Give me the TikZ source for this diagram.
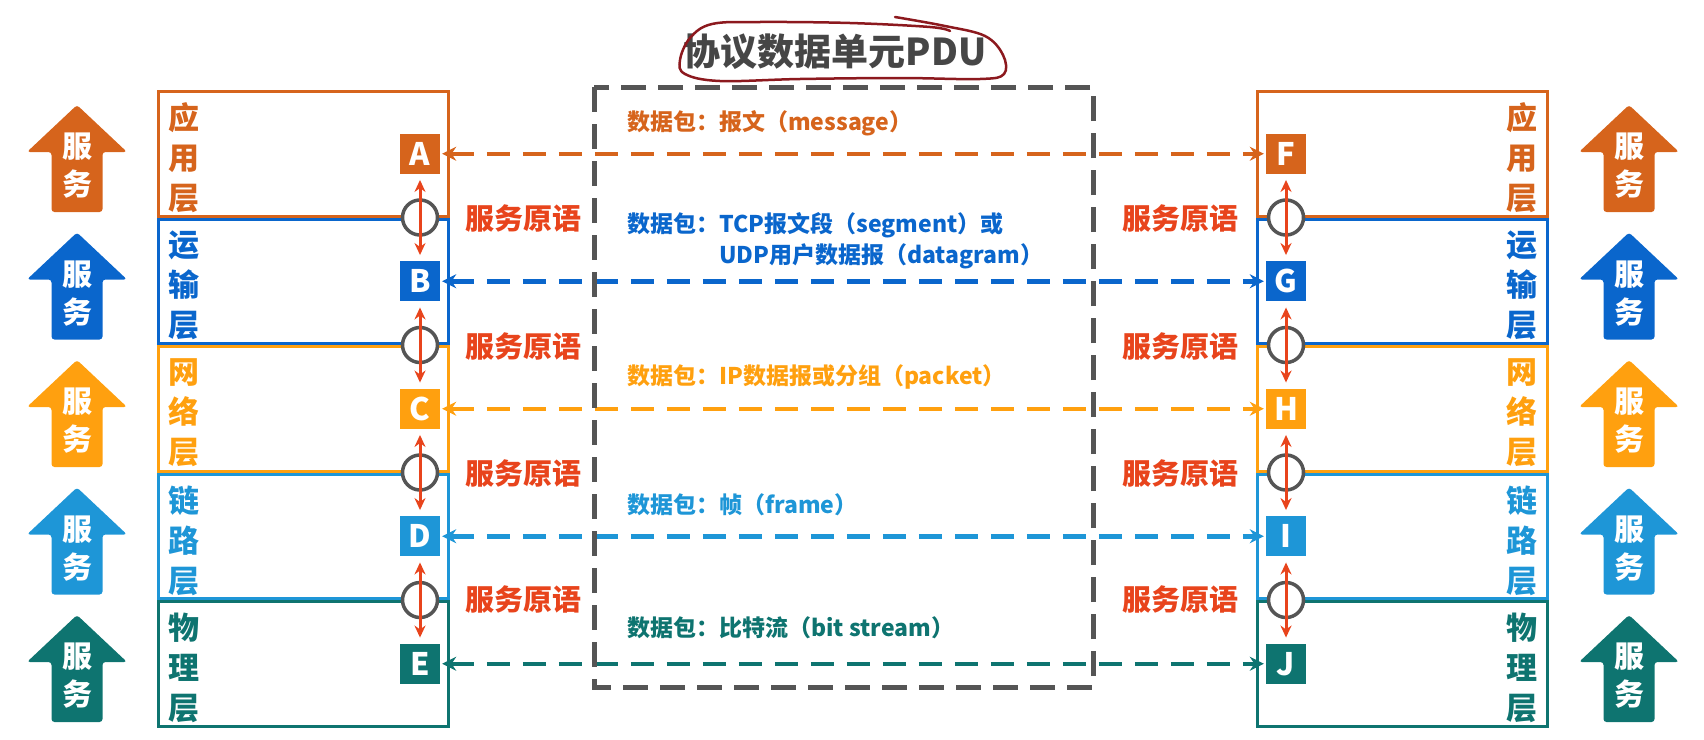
\documentclass[tikz,border=0pt]{standalone}
\usepackage{fontspec}
\setmainfont{Noto Sans CJK SC}
\usetikzlibrary{arrows.meta}

\definecolor{appc}{RGB}{214,100,28}
\definecolor{trnc}{RGB}{10,102,204}
\definecolor{netc}{RGB}{255,160,15}
\definecolor{lnkc}{RGB}{30,150,215}
\definecolor{phyc}{RGB}{14,116,112}
\definecolor{primc}{RGB}{232,68,28}
\definecolor{sapc}{RGB}{85,85,85}
\definecolor{pduc}{RGB}{85,85,85}
\definecolor{titlec}{RGB}{70,70,70}
\definecolor{inkc}{RGB}{140,25,30}

\tikzset{
	layer/.style={draw, line width=3pt, minimum width=290pt, minimum height=124.5pt, inner sep=0pt},
	lyrtext/.style={font=\fontsize{31}{40}\selectfont\bfseries, align=center, inner sep=0pt},
	tag/.style={fill, minimum size=40pt, inner sep=0pt, text=white, font=\fontsize{31}{30}\selectfont\bfseries},
	sap/.style={circle, draw=sapc, line width=3.5pt, fill=white, minimum size=35pt, inner sep=0pt},
	prim/.style={primc, line width=3pt, {Stealth[length=12pt,width=11pt]}-{Stealth[length=12pt,width=11pt]}, shorten <=6pt, shorten >=6pt},
	primtext/.style={text=primc, font=\fontsize{29}{30}\selectfont\bfseries, inner sep=0pt},
	peer/.style={line width=4.5pt, dash pattern=on 23pt off 13pt, {Stealth[length=14pt,width=14pt]}-{Stealth[length=14pt,width=14pt]}, shorten <=2pt, shorten >=2pt},
	pdutext/.style={anchor=west, font=\fontsize{23}{31}\selectfont\bfseries, inner sep=0pt, align=left},
	svc/.pic={
		\fill[rounded corners=3pt] (0,-53.5) -- (50,-6.5) -- (25.5,-6.5) -- (25.5,53.5) -- (-25.5,53.5) -- (-25.5,-6.5) -- (-50,-6.5) -- cycle;
		\node[text=white, font=\fontsize{30}{38}\selectfont\bfseries, align=center, inner sep=0pt] at (0,7.5) {服\\务};
	}
}

\begin{document}
\begin{tikzpicture}[x=1pt, y=-1pt]
	\useasboundingbox (0,0) rectangle (1704,739);
	
	% title
	\node[text=titlec, font=\fontsize{37}{40}\selectfont\bfseries] (title) at (835,52) {协议数据单元PDU};
	\draw[inkc, line width=2.5pt, line cap=round] plot[smooth, tension=0.6] coordinates {(895,17) (945,26) (985,36) (1003,55) (1004,74) (980,79) (900,78) (800,79) (720,81) (685,74) (680,60) (690,38) (712,24) (760,22) (850,23) (930,27) (950,31)};
	
	% service arrows
	\pic[color=appc] at (77,158.5) {svc};
	\pic[color=trnc] at (77,286) {svc};
	\pic[color=netc] at (77,413.5) {svc};
	\pic[color=lnkc] at (77,541) {svc};
	\pic[color=phyc] at (77,668.5) {svc};
	\pic[color=appc] at (1629,158.5) {svc};
	\pic[color=trnc] at (1629,286) {svc};
	\pic[color=netc] at (1629,413.5) {svc};
	\pic[color=lnkc] at (1629,541) {svc};
	\pic[color=phyc] at (1629,668.5) {svc};
	
	% layers, left host
	\node[layer, draw=appc] (appL) at (303.5,153.75) {};
	\node[layer, draw=trnc] (trnL) at (303.5,281.25) {};
	\node[layer, draw=netc] (netL) at (303.5,408.75) {};
	\node[layer, draw=lnkc] (lnkL) at (303.5,536.25) {};
	\node[layer, draw=phyc] (phyL) at (303.5,663.75) {};
	
	\node[lyrtext, text=appc] (appLt) at (184,158) {应\\用\\层};
	\node[lyrtext, text=trnc] (trnLt) at (184,285.5) {运\\输\\层};
	\node[lyrtext, text=netc] (netLt) at (184,413) {网\\络\\层};
	\node[lyrtext, text=lnkc] (lnkLt) at (184,540.5) {链\\路\\层};
	\node[lyrtext, text=phyc] (phyLt) at (184,668) {物\\理\\层};
	
	% layers, right host
	\node[layer, draw=appc] (appR) at (1402.5,153.75) {};
	\node[layer, draw=trnc] (trnR) at (1402.5,281.25) {};
	\node[layer, draw=netc] (netR) at (1402.5,408.75) {};
	\node[layer, draw=lnkc] (lnkR) at (1402.5,536.25) {};
	\node[layer, draw=phyc] (phyR) at (1402.5,663.75) {};
	
	\node[lyrtext, text=appc] (appRt) at (1522,158) {应\\用\\层};
	\node[lyrtext, text=trnc] (trnRt) at (1522,285.5) {运\\输\\层};
	\node[lyrtext, text=netc] (netRt) at (1522,413) {网\\络\\层};
	\node[lyrtext, text=lnkc] (lnkRt) at (1522,540.5) {链\\路\\层};
	\node[lyrtext, text=phyc] (phyRt) at (1522,668) {物\\理\\层};
	
	% entities
	\node[tag, fill=appc] (A) at (420,153.75) {A};
	\node[tag, fill=trnc] (B) at (420,281.25) {B};
	\node[tag, fill=netc] (C) at (420,408.75) {C};
	\node[tag, fill=lnkc] (D) at (420,536.25) {D};
	\node[tag, fill=phyc] (E) at (420,663.75) {E};
	\node[tag, fill=appc] (F) at (1286,153.75) {F};
	\node[tag, fill=trnc] (G) at (1286,281.25) {G};
	\node[tag, fill=netc] (H) at (1286,408.75) {H};
	\node[tag, fill=lnkc] (I) at (1286,536.25) {I};
	\node[tag, fill=phyc] (J) at (1286,663.75) {J};
	
	% service access points
	\node[sap] (sapL1) at (420,217.5) {};
	\node[sap] (sapL2) at (420,345) {};
	\node[sap] (sapL3) at (420,472.5) {};
	\node[sap] (sapL4) at (420,600) {};
	\node[sap] (sapR1) at (1286,217.5) {};
	\node[sap] (sapR2) at (1286,345) {};
	\node[sap] (sapR3) at (1286,472.5) {};
	\node[sap] (sapR4) at (1286,600) {};
	
	\draw[prim] (A) -- (B);
	\draw[prim] (B) -- (C);
	\draw[prim] (C) -- (D);
	\draw[prim] (D) -- (E);
	\draw[prim] (F) -- (G);
	\draw[prim] (G) -- (H);
	\draw[prim] (H) -- (I);
	\draw[prim] (I) -- (J);
	
	\node[primtext] (primL1) at (523,218) {服务原语};
	\node[primtext] (primL2) at (523,346) {服务原语};
	\node[primtext] (primL3) at (523,473) {服务原语};
	\node[primtext] (primL4) at (523,599) {服务原语};
	\node[primtext] (primR1) at (1180,218) {服务原语};
	\node[primtext] (primR2) at (1180,346) {服务原语};
	\node[primtext] (primR3) at (1180,473) {服务原语};
	\node[primtext] (primR4) at (1180,599) {服务原语};
	
	% peer protocol data units
	\draw[peer, appc] (A) -- (F);
	\draw[peer, trnc] (B) -- (G);
	\draw[peer, netc] (C) -- (H);
	\draw[peer, lnkc] (D) -- (I);
	\draw[peer, phyc] (E) -- (J);
	
	\node[pdutext, text=appc] (msg) at (627,123) {数据包：报文（message）};
	\node[pdutext, text=trnc] (seg) at (627,240.5) {数据包：TCP报文段（segment）或\\\hphantom{数据包：}UDP用户数据报（datagram）};
	\node[pdutext, text=netc] (pkt) at (627,377) {数据包：IP数据报或分组（packet）};
	\node[pdutext, text=lnkc] (frm) at (627,505) {数据包：帧（frame）};
	\node[pdutext, text=phyc] (bit) at (627,628) {数据包：比特流（bit stream）};
	
	\draw[pduc, line width=5pt, dash pattern=on 25pt off 12pt] (594,87) rectangle (1093,687);
\end{tikzpicture}
\end{document}
